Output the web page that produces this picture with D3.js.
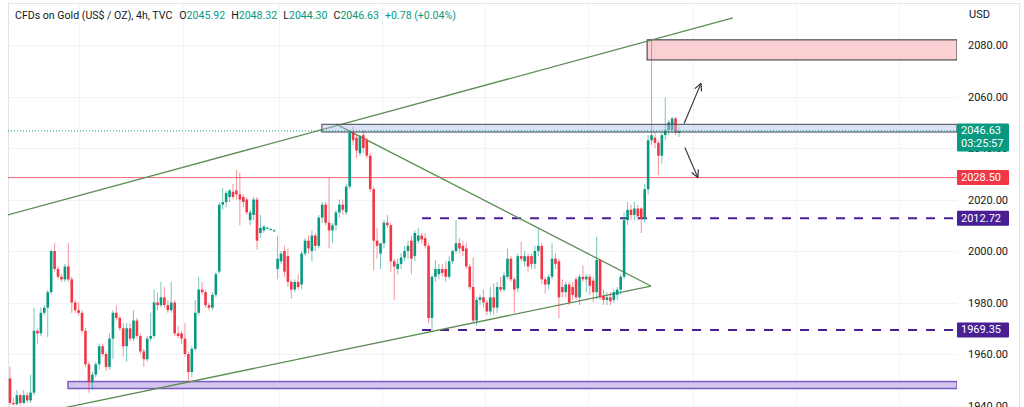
<!DOCTYPE html>
<html>
<head>
<meta charset="utf-8">
<script src="https://cdn.jsdelivr.net/npm/d3@7"></script>
<style>
	body { margin: 0; background: #fff; }
	svg { display: block; font-family: "Trebuchet MS", Roboto, sans-serif; }
</style>
</head>
<body>
<div id="chart"></div>
<script>
/*
// Gold CFD 4h candle chart with drawn levels, zones and trend lines
*/

// Candle values, one entry per 4h bar (oldest first)
const OPENS = [
	1950.5, 1941, 1940.5, 1944, 1941, 1944, 1942, 1945, 1969, 1968,
	1976, 1978, 1984, 2000, 1993, 1990, 1989, 1994, 1989, 1980,
	1977, 1976, 1969, 1956, 1949, 1952, 1956, 1963, 1960, 1955,
	1966, 1976, 1974, 1970, 1963, 1970, 1966, 1973, 1967, 1961,
	1958, 1966, 1967, 1980, 1979, 1982, 1979, 1977, 1980, 1968,
	1968, 1966, 1960, 1953, 1962, 1976, 1985, 1984, 1979, 1978,
	1983, 1992, 2018, 2019, 2021, 2023, 2023.5, 2022, 2021, 2020,
	2012, 2014, 2020, 2007, 2008, 2009, 2008.5, 2008, 1993, 1996,
	2000, 1998, 1988, 1985, 1988, 1987, 1999, 2004, 2000, 2006,
	2002, 2013, 2018, 2011, 2008, 2010, 2015, 2018, 2015, 2025,
	2046, 2044, 2038, 2045, 2043, 2037, 2024, 2004, 1999, 2003,
	2011, 2010, 1996, 1993, 1995, 1997.5, 2000, 2004, 1998, 2004,
	2006, 2005, 2002, 1974, 1990, 1991, 1993, 1993, 1990, 1996,
	2000, 2003, 2002, 2001, 1994, 1986, 1973, 1981, 1982, 1980,
	1976.5, 1982, 1978, 1986, 1985, 1990, 1997, 1989, 1985.5, 1998,
	1996, 1998, 1998, 1995, 2000, 2002, 1989, 1987, 1990, 1997,
	1996, 1986, 1984, 1987, 1986, 1989, 1982, 1990, 1989, 1990,
	1988.5, 1984, 1996.5, 1982.5, 1981, 1982, 1981, 1983, 1985, 1990,
	2012, 2016, 2014, 2016.5, 2016.5, 2012.5, 2024, 2043, 2044, 2042,
	2037, 2045, 2047, 2047, 2051.5, 2045.92
];
const HIGHS = [
	1955, 1943, 1946, 1944.5, 1946, 1945, 1952, 1978, 1970, 1978,
	1979, 1985, 2000.5, 2003, 1994, 1991, 1995, 2003, 1990, 1981,
	1980, 1977, 1970, 1957, 1953, 1957, 1964, 1964, 1961, 1968,
	1977, 1979, 1975, 1972, 1972, 1972, 1977, 1974, 1968, 1962,
	1967, 1976, 1985, 1984, 1988, 1986, 1981, 1988, 1981, 1971,
	1969, 1972, 1961, 1963, 1981, 1990, 1988, 1985, 1980, 1984,
	1992, 2019, 2024.5, 2023.5, 2024, 2026, 2031.5, 2030.5, 2022, 2021,
	2016, 2021, 2021, 2014, 2010, 2009.5, 2009, 2008.5, 2006, 2000,
	2002, 2001, 1989, 1989, 1991, 2000, 2005, 2006, 2008, 2007,
	2014, 2019, 2019, 2028.5, 2011, 2016, 2020, 2020, 2026, 2047,
	2048.3, 2045, 2045, 2047, 2044, 2038, 2025, 2009, 2003, 2012,
	2014, 2011, 1997, 1997, 1999, 2002, 2004, 2006, 2008, 2009,
	2007, 2007, 2003, 1990.5, 1996.5, 1995, 1995, 1996, 1998, 2000.5,
	2012, 2005, 2004, 2003, 1995, 1997.5, 1982, 1983, 1985, 1981,
	1986, 1987.5, 1988, 1990, 1992, 2001, 1998, 1990, 1999, 2003.5,
	2000, 1999, 1999, 2002, 2009, 2003, 1990, 1991, 2003, 1999,
	1997, 1989, 1988, 1988, 1988, 1990, 1991, 1994.5, 1991, 1991,
	1990, 2005.5, 1997, 1985, 1984, 1984, 1985, 1986, 1991, 2015,
	2019, 2018, 2019, 2018, 2017, 2026, 2045, 2082, 2046, 2043,
	2046, 2059.5, 2051, 2052, 2052, 2048.32
];
const LOWS = [
	1940, 1940, 1940, 1940, 1940.5, 1941, 1941, 1944, 1964, 1967,
	1975, 1966.5, 1983, 1992, 1989, 1988, 1988, 1988, 1976, 1976,
	1975, 1968, 1955, 1945, 1946, 1951, 1954, 1959, 1953.5, 1954,
	1958, 1973, 1969, 1959, 1957, 1965, 1965, 1966, 1960, 1955,
	1957, 1965, 1966, 1977, 1978, 1978, 1976, 1976, 1967, 1966,
	1964, 1959, 1949, 1951, 1961, 1975, 1983, 1978, 1977, 1977,
	1982, 1991, 2016, 2017, 2019, 2020, 2020, 2010, 2017, 2014,
	2010, 2012, 2000.5, 2005, 2007, 2008.5, 2008, 2007.5, 1989, 1995,
	1990, 1986, 1981.5, 1984, 1985, 1985, 1998, 1999, 1996, 2000,
	2001, 2011, 2010, 2001, 2003, 2008, 2013, 2014, 2014, 2024,
	2041, 2036, 2037, 2038, 2036, 2023, 1992.5, 1997, 1993, 2001,
	2009, 1992, 1981, 1991, 1993, 1996, 1997, 1991, 1996, 2003,
	2003, 2001, 1972, 1969.3, 1988, 1989, 1990, 1988, 1989, 1995,
	1999, 1999, 1998, 1993, 1985, 1972, 1971, 1979, 1978, 1975,
	1975, 1975, 1976, 1984, 1984, 1989, 1988, 1976, 1984, 1996,
	1994, 1992, 1993, 1993, 1998, 1987, 1983.5, 1985, 1989, 1993,
	1974, 1982, 1982, 1979, 1981, 1981, 1979, 1988, 1984, 1983,
	1980, 1981, 1981, 1979, 1979, 1979, 1980, 1981, 1983, 1989,
	2010, 2012, 2012, 2012, 2007, 2011, 2022, 2041, 2040, 2029.5,
	2034, 2043, 2045, 2046, 2045, 2044.30
];
const CLOSES = [
	1941, 1940.5, 1944, 1941, 1944, 1942, 1945, 1969, 1968, 1976,
	1978, 1984, 2000, 1993, 1990, 1989, 1994, 1989, 1980, 1977,
	1976, 1969, 1956, 1949, 1952, 1956, 1963, 1960, 1955, 1966,
	1976, 1974, 1970, 1963, 1970, 1966, 1973, 1967, 1961, 1958,
	1966, 1967, 1980, 1979, 1982, 1979, 1977, 1980, 1968, 1967,
	1966, 1960, 1953, 1962, 1976, 1985, 1984, 1979, 1978, 1983,
	1991, 2018, 2019, 2022.5, 2023.5, 2021, 2022, 2020, 2019, 2015,
	2015, 2020, 2004, 2009, 2009.5, 2009, 2008.5, 2008, 1997, 1999,
	1992, 1988, 1985, 1988, 1986, 1999, 2004, 2001, 2006, 2002,
	2013, 2018, 2011, 2008, 2010, 2015, 2018, 2016, 2025, 2046,
	2043, 2039, 2044.5, 2040, 2037, 2024, 2004, 2002, 2003, 2011,
	2010, 1996, 1994, 1995, 1997.5, 2000, 2002, 1997, 2007, 2006,
	2004.5, 2002, 1974, 1990, 1993, 1993, 1991.5, 1990, 1996, 2000,
	2003, 2001, 2000, 1994, 1986, 1973, 1981, 1982, 1980, 1976.5,
	1982, 1978, 1986, 1985, 1990.5, 1997, 1989, 1985, 1998, 1997,
	1998, 1994, 1995, 2000, 2002, 1989, 1987, 1990, 1997, 1995,
	1982, 1984, 1987, 1980, 1983, 1982, 1990, 1989, 1990, 1986.5,
	1984, 1996.5, 1982, 1981, 1982, 1980.5, 1984, 1985, 1990, 2012,
	2016, 2014, 2016.5, 2013.5, 2012.5, 2024, 2043, 2045, 2042, 2037,
	2045, 2047, 2050, 2051.5, 2046, 2046.63
];

// Price axis
const PRICE_TICKS = [1940, 1960, 1980, 2000, 2020, 2040, 2060, 2080];
const PRICE_DOMAIN = [1940, 2080];
// Bar positions of the weekly time grid
const GRID_BARS = [20.1, 50.4, 78.4, 108.4, 138.5, 168.5, 199.1, 229, 259];

// Header legend
const TITLE = "CFDs on Gold (US$ / OZ), 4h, TVC";
const LEGEND = [["O", "2045.92"], ["H", "2048.32"], ["L", "2044.30"], ["C", "2046.63"]];
const CHANGE = "+0.78 (+0.04%)";

// Drawn levels: [price, label]
const RED_LEVEL = [2028.50, "2028.50"];
const DASH_LEVELS = [[2012.72, "2012.72"], [1969.35, "1969.35"]];
const LAST_PRICE = [2046.63, "2046.63", "03:25:57"];
const DASH_START_BAR = 120.1;

// Zones: [start bar, top price, bottom price]
const BLUE_ZONE = [90.9, 2049.2, 2046.2];
const RED_ZONE = [185.7, 2082, 2074.2];
const PURPLE_ZONE = [16.9, 1949.3, 1946.6];

// Trend lines: [[bar, price], [bar, price]]
const TREND_LINES = [
	[[-0.6, 2014.0], [210.7, 2090.5]],
	[[10, 1937.5], [186.8, 1986.4]],
	[[95.0, 2049.3], [186.8, 1986.4]]
];

// Arrows: [[bar, price], [bar, price]]
const ARROWS = [
	[[196.5, 2049.5], [201.4, 2065.1]],
	[[196.7, 2040.2], [200.5, 2028.5]]
];

const WIDTH = 1024;
const HEIGHT = 407;
const PLOT_LEFT = 8;
const PLOT_RIGHT = 957;
const UP = "#089981";
const DOWN = "#f23645";
const PURPLE = "#4a1f96";
const TREND = "#5e8c56";
const TEXT = "#131722";

const svg = d3.select("#chart")
			  .append("svg")
			  .attr("width", WIDTH)
			  .attr("height", HEIGHT);

const x = d3.scaleLinear()
			.domain([0, OPENS.length - 1])
			.range([10, 679]);

const y = d3.scaleLinear()
			.domain(PRICE_DOMAIN)
			.range([405.5, 45]);

svg.append("clipPath")
   .attr("id", "plot")
   .append("rect")
   .attr("x", PLOT_LEFT)
   .attr("y", 3)
   .attr("width", PLOT_RIGHT - PLOT_LEFT)
   .attr("height", HEIGHT);

// Grid
const grid = svg.append("g").attr("clip-path", "url(#plot)");
grid.selectAll(".hgrid")
	.data(PRICE_TICKS)
	.enter()
	.append("line")
	.attr("x1", PLOT_LEFT)
	.attr("x2", PLOT_RIGHT)
	.attr("y1", d => Math.round(y(d)) + 0.5)
	.attr("y2", d => Math.round(y(d)) + 0.5)
	.attr("stroke", "#f0f3fa");
grid.selectAll(".vgrid")
	.data(GRID_BARS)
	.enter()
	.append("line")
	.attr("x1", d => Math.round(x(d)) + 0.5)
	.attr("x2", d => Math.round(x(d)) + 0.5)
	.attr("y1", 3)
	.attr("y2", HEIGHT)
	.attr("stroke", "#f0f3fa");

// Frame
svg.append("rect")
   .attr("x", PLOT_LEFT + 0.5)
   .attr("y", 3.5)
   .attr("width", 1019 - PLOT_LEFT)
   .attr("height", HEIGHT)
   .attr("fill", "none")
   .attr("stroke", "#e0e3eb");

const plot = svg.append("g").attr("clip-path", "url(#plot)");

/* Draws a zone rectangle running to the right edge of the plot */
function drawZone(zone, fill, stroke, strokeWidth) {
	plot.append("rect")
		.attr("x", x(zone[0]))
		.attr("y", y(zone[1]))
		.attr("width", PLOT_RIGHT - x(zone[0]))
		.attr("height", y(zone[2]) - y(zone[1]))
		.attr("fill", fill)
		.attr("stroke", stroke)
		.attr("stroke-width", strokeWidth);
}

drawZone(PURPLE_ZONE, "#d4c6ec", "#7b5cc4", 1.5);
drawZone(RED_ZONE, "#fbd0d3", "#2a2e39", 1);

// Red level line
plot.append("line")
	.attr("x1", PLOT_LEFT)
	.attr("x2", PLOT_RIGHT)
	.attr("y1", y(RED_LEVEL[0]))
	.attr("y2", y(RED_LEVEL[0]))
	.attr("stroke", DOWN)
	.attr("stroke-opacity", 0.75);

// Dashed purple levels
plot.selectAll(".dash")
	.data(DASH_LEVELS)
	.enter()
	.append("line")
	.attr("x1", x(DASH_START_BAR))
	.attr("x2", PLOT_RIGHT)
	.attr("y1", d => y(d[0]))
	.attr("y2", d => y(d[0]))
	.attr("stroke", PURPLE)
	.attr("stroke-width", 2)
	.attr("stroke-dasharray", "9,9");

// Trend lines
plot.selectAll(".trend")
	.data(TREND_LINES)
	.enter()
	.append("line")
	.attr("x1", d => x(d[0][0]))
	.attr("y1", d => y(d[0][1]))
	.attr("x2", d => x(d[1][0]))
	.attr("y2", d => y(d[1][1]))
	.attr("stroke", TREND)
	.attr("stroke-width", 1.3);

// Candles
const bars = d3.range(OPENS.length);
const BODY = 2.6;
plot.selectAll(".wick")
	.data(bars)
	.enter()
	.append("line")
	.attr("x1", i => x(i))
	.attr("x2", i => x(i))
	.attr("y1", i => y(HIGHS[i]))
	.attr("y2", i => y(LOWS[i]))
	.attr("stroke", i => CLOSES[i] >= OPENS[i] ? UP : DOWN)
	.attr("stroke-opacity", 0.55);
plot.selectAll(".body")
	.data(bars)
	.enter()
	.append("rect")
	.attr("x", i => x(i) - BODY / 2)
	.attr("y", i => y(Math.max(OPENS[i], CLOSES[i])))
	.attr("width", BODY)
	.attr("height", i => Math.max(1, Math.abs(y(OPENS[i]) - y(CLOSES[i]))))
	.attr("fill", i => CLOSES[i] >= OPENS[i] ? UP : DOWN);

// Blue zone sits over the candles, half see-through
drawZone(BLUE_ZONE, "rgba(173,190,235,0.45)", "#434651", 1);

// Last price dotted line
plot.append("line")
	.attr("x1", PLOT_LEFT)
	.attr("x2", PLOT_RIGHT)
	.attr("y1", y(LAST_PRICE[0]))
	.attr("y2", y(LAST_PRICE[0]))
	.attr("stroke", UP)
	.attr("stroke-dasharray", "1,2");

// Arrows
svg.append("defs")
   .append("marker")
   .attr("id", "head")
   .attr("viewBox", "0 0 10 10")
   .attr("refX", 9)
   .attr("refY", 5)
   .attr("markerWidth", 9)
   .attr("markerHeight", 9)
   .attr("markerUnits", "userSpaceOnUse")
   .attr("orient", "auto")
   .append("path")
   .attr("d", "M1,1 L9,5 L1,9")
   .attr("fill", "none")
   .attr("stroke", "#2a2e39")
   .attr("stroke-width", 1.3);

plot.selectAll(".arrow")
	.data(ARROWS)
	.enter()
	.append("line")
	.attr("x1", d => x(d[0][0]))
	.attr("y1", d => y(d[0][1]))
	.attr("x2", d => x(d[1][0]))
	.attr("y2", d => y(d[1][1]))
	.attr("stroke", "#2a2e39")
	.attr("stroke-width", 1.1)
	.attr("marker-end", "url(#head)");

// Price axis
const axis = svg.append("g")
				.attr("transform", "translate(" + PLOT_RIGHT + ",0)")
				.call(d3.axisRight(y).tickValues(PRICE_TICKS).tickFormat(d3.format(".2f")).tickSize(0).tickPadding(11));
axis.select(".domain").remove();
axis.selectAll("text")
	.attr("fill", TEXT)
	.attr("font-size", "11px")
	.attr("font-family", "\"Trebuchet MS\", Roboto, sans-serif");

svg.append("text")
   .attr("x", 969)
   .attr("y", 18)
   .attr("fill", TEXT)
   .attr("font-size", "11px")
   .text("USD");

/* Draws a coloured price label box on the axis */
function priceLabel(price, lines, fill) {
	var h = lines.length * 13 + 2;
	var top = y(price) - 7.5;
	svg.append("rect")
	   .attr("x", PLOT_RIGHT)
	   .attr("y", top)
	   .attr("width", 52)
	   .attr("height", h)
	   .attr("fill", fill)
	   .attr("rx", 1);
	lines.forEach(function(t, k) {
		svg.append("text")
		   .attr("x", PLOT_RIGHT + 4)
		   .attr("y", top + 11 + k * 13)
		   .attr("fill", "#fff")
		   .attr("font-size", "11px")
		   .text(t);
	});
}

priceLabel(LAST_PRICE[0], [LAST_PRICE[1], LAST_PRICE[2]], UP);
priceLabel(RED_LEVEL[0], [RED_LEVEL[1]], DOWN);
DASH_LEVELS.forEach(d => priceLabel(d[0], [d[1]], PURPLE));

// Header legend
const header = svg.append("text")
				  .attr("x", 15)
				  .attr("y", 19)
				  .attr("font-size", "10.6px")
				  .attr("fill", TEXT);
header.append("tspan").text(TITLE);
LEGEND.forEach(function(d, k) {
	header.append("tspan").attr("dx", k == 0 ? 7 : 6).attr("fill", TEXT).text(d[0]);
	header.append("tspan").attr("fill", UP).text(d[1]);
});
header.append("tspan").attr("dx", 6).attr("fill", UP).text(CHANGE);
</script>
</body>
</html>
